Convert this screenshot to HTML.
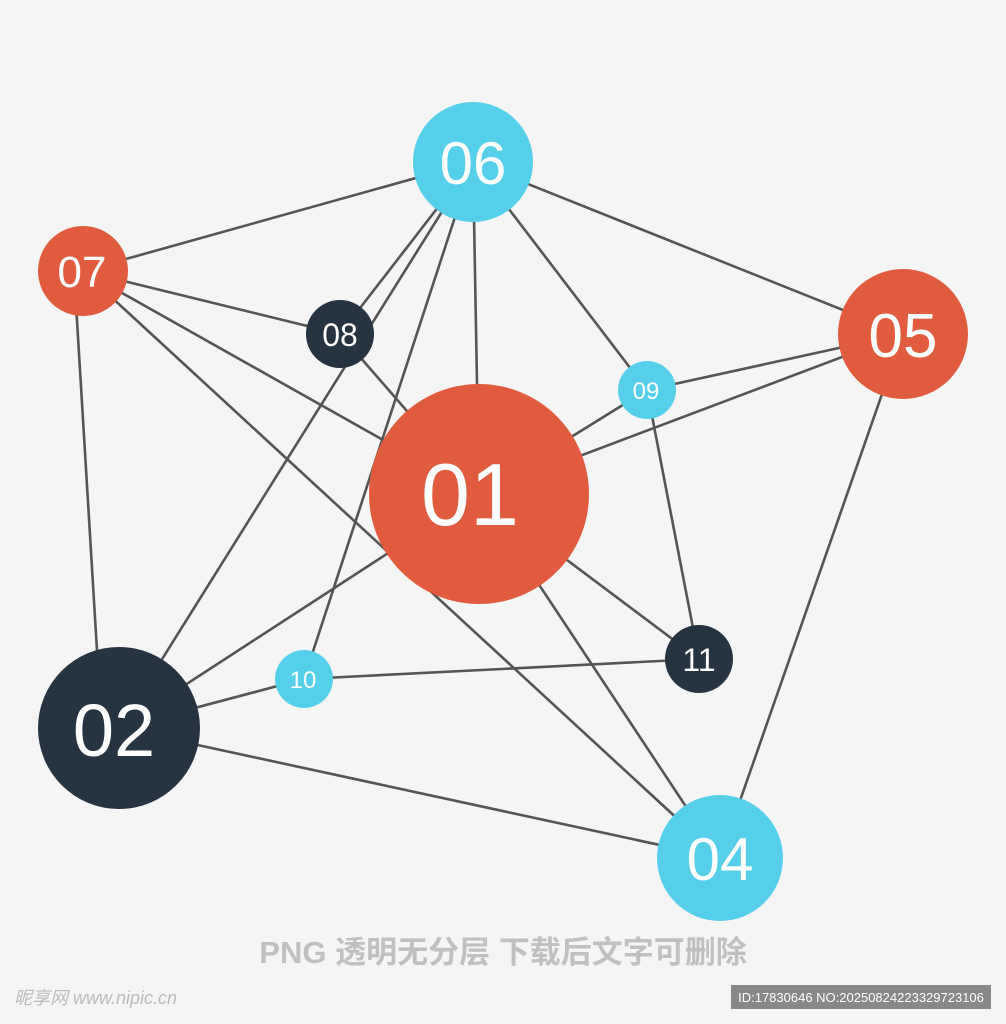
<!DOCTYPE html>
<html><head><meta charset="utf-8"><style>
html,body{margin:0;padding:0;background:#f5f5f5;}
svg{display:block}
</style></head><body>
<svg width="1006" height="1024" viewBox="0 0 1006 1024" xmlns="http://www.w3.org/2000/svg">
<rect width="1006" height="1024" fill="#f5f5f5"/>
<g stroke="#555" stroke-width="2.6" fill="none">
<line x1="83" y1="271" x2="473" y2="162"/>
<line x1="473" y1="162" x2="903" y2="334"/>
<line x1="83" y1="271" x2="340" y2="334"/>
<line x1="83" y1="271" x2="479" y2="494"/>
<line x1="83" y1="271" x2="720" y2="858"/>
<line x1="74" y1="271" x2="100" y2="700"/>
<line x1="473" y1="162" x2="340" y2="334"/>
<line x1="473" y1="162" x2="119" y2="728"/>
<line x1="473" y1="162" x2="304" y2="679"/>
<line x1="473" y1="162" x2="479" y2="494"/>
<line x1="473" y1="162" x2="647" y2="390"/>
<line x1="340" y1="334" x2="479" y2="494"/>
<line x1="647" y1="390" x2="903" y2="334"/>
<line x1="479" y1="494" x2="903" y2="334"/>
<line x1="479" y1="494" x2="647" y2="390"/>
<line x1="647" y1="390" x2="699" y2="659"/>
<line x1="903" y1="334" x2="720" y2="858"/>
<line x1="479" y1="494" x2="699" y2="659"/>
<line x1="479" y1="494" x2="720" y2="858"/>
<line x1="479" y1="494" x2="119" y2="728"/>
<line x1="119" y1="728" x2="304" y2="679"/>
<line x1="304" y1="679" x2="699" y2="659"/>
<line x1="119" y1="728" x2="720" y2="858"/>
</g>
<g font-family="Liberation Sans, sans-serif" fill="#fff" text-anchor="middle">
<circle cx="473" cy="162" r="60" fill="#56CFEB"/><text x="473" y="184" font-size="60">06</text>
<circle cx="83" cy="271" r="45" fill="#E15B3F"/><text x="82" y="287" font-size="44">07</text>
<circle cx="340" cy="334" r="34" fill="#263340"/><text x="340" y="346" font-size="32">08</text>
<circle cx="903" cy="334" r="65" fill="#E15B3F"/><text x="903" y="357" font-size="62">05</text>
<circle cx="647" cy="390" r="29" fill="#56CFEB"/><text x="646" y="399" font-size="24">09</text>
<circle cx="479" cy="494" r="110" fill="#E15B3F"/><text x="470" y="525" font-size="88">01</text>
<circle cx="699" cy="659" r="34" fill="#263340"/><text x="699" y="671" font-size="32">11</text>
<circle cx="304" cy="679" r="29" fill="#56CFEB"/><text x="303" y="688" font-size="24">10</text>
<circle cx="119" cy="728" r="81" fill="#263340"/><text x="114" y="756" font-size="74">02</text>
<circle cx="720" cy="858" r="63" fill="#56CFEB"/><text x="720" y="880" font-size="60">04</text>
</g>
<text x="503" y="963" text-anchor="middle" font-family="Liberation Sans, Noto Sans CJK SC, sans-serif" font-size="31" font-weight="bold" fill="#c0c0c0">PNG 透明无分层 下载后文字可删除</text>
<text x="14" y="1004" font-family="Liberation Sans, Noto Sans CJK SC, sans-serif" font-size="18" fill="#bbb" font-style="italic">昵享网 www.nipic.cn</text>
<rect x="731" y="985" width="260" height="24" fill="#888"/>
<text x="861" y="1002" text-anchor="middle" font-family="Liberation Sans, sans-serif" font-size="13" fill="#fff">ID:17830646 NO:20250824223329723106</text>
</svg>
</body></html>
